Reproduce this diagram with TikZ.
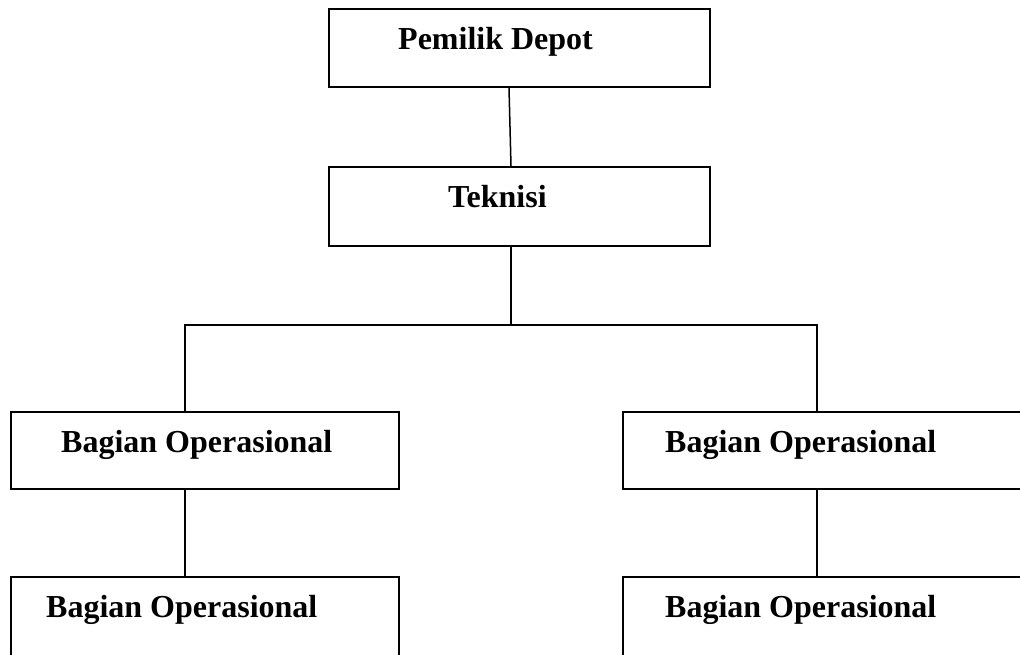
\documentclass[tikz,border=0pt]{standalone}
\usepackage{fontspec}
\setmainfont{Liberation Serif}
\begin{document}
\begin{tikzpicture}[x=1pt,y=-1pt,
  orgbox/.style={draw=black, line width=1.6pt, rectangle, inner sep=0pt, fill=none},
  lbl/.style={anchor=base west, inner sep=0pt, font=\fontsize{32}{38}\selectfont\bfseries},
  conn/.style={draw=black, line width=1.5pt}]
\useasboundingbox (0,0) rectangle (1020,655);
\clip (0,0) rectangle (1020,655);
% boxes
\node[orgbox, minimum width=381pt, minimum height=78pt] (top) at (519.5,48) {};
\node[orgbox, minimum width=381pt, minimum height=79pt] (tek) at (519.5,206.5) {};
\node[orgbox, minimum width=388pt, minimum height=77pt] (l1) at (205,450.5) {};
\node[orgbox, minimum width=420pt, minimum height=77pt] (r1) at (833,450.5) {};
\node[orgbox, minimum width=388pt, minimum height=120pt] (l2) at (205,637) {};
\node[orgbox, minimum width=420pt, minimum height=120pt] (r2) at (833,637) {};
% labels
\node[lbl] (ttop) at (398,50) {Pemilik Depot};
\node[lbl] (ttek) at (448,208) {Teknisi};
\node[lbl] (tl1) at (61,452) {Bagian Operasional};
\node[lbl] (tr1) at (665,452) {Bagian Operasional};
\node[lbl] (tl2) at (46,617) {Bagian Operasional};
\node[lbl] (tr2) at (665,617) {Bagian Operasional};
% connectors
\coordinate (j) at (511,325);
\draw[conn] ([xshift=-10.5pt]top.south) -- ([xshift=-8.5pt]tek.north);
\draw[conn] ([xshift=-8.5pt]tek.south) -- (j);
\draw[conn] ([xshift=-20pt]l1.north) |- (j) -| ([xshift=-16pt]r1.north);
\draw[conn] ([xshift=-20pt]l1.south) -- ([xshift=-20pt]l2.north);
\draw[conn] ([xshift=-16pt]r1.south) -- ([xshift=-16pt]r2.north);
\end{tikzpicture}
\end{document}
